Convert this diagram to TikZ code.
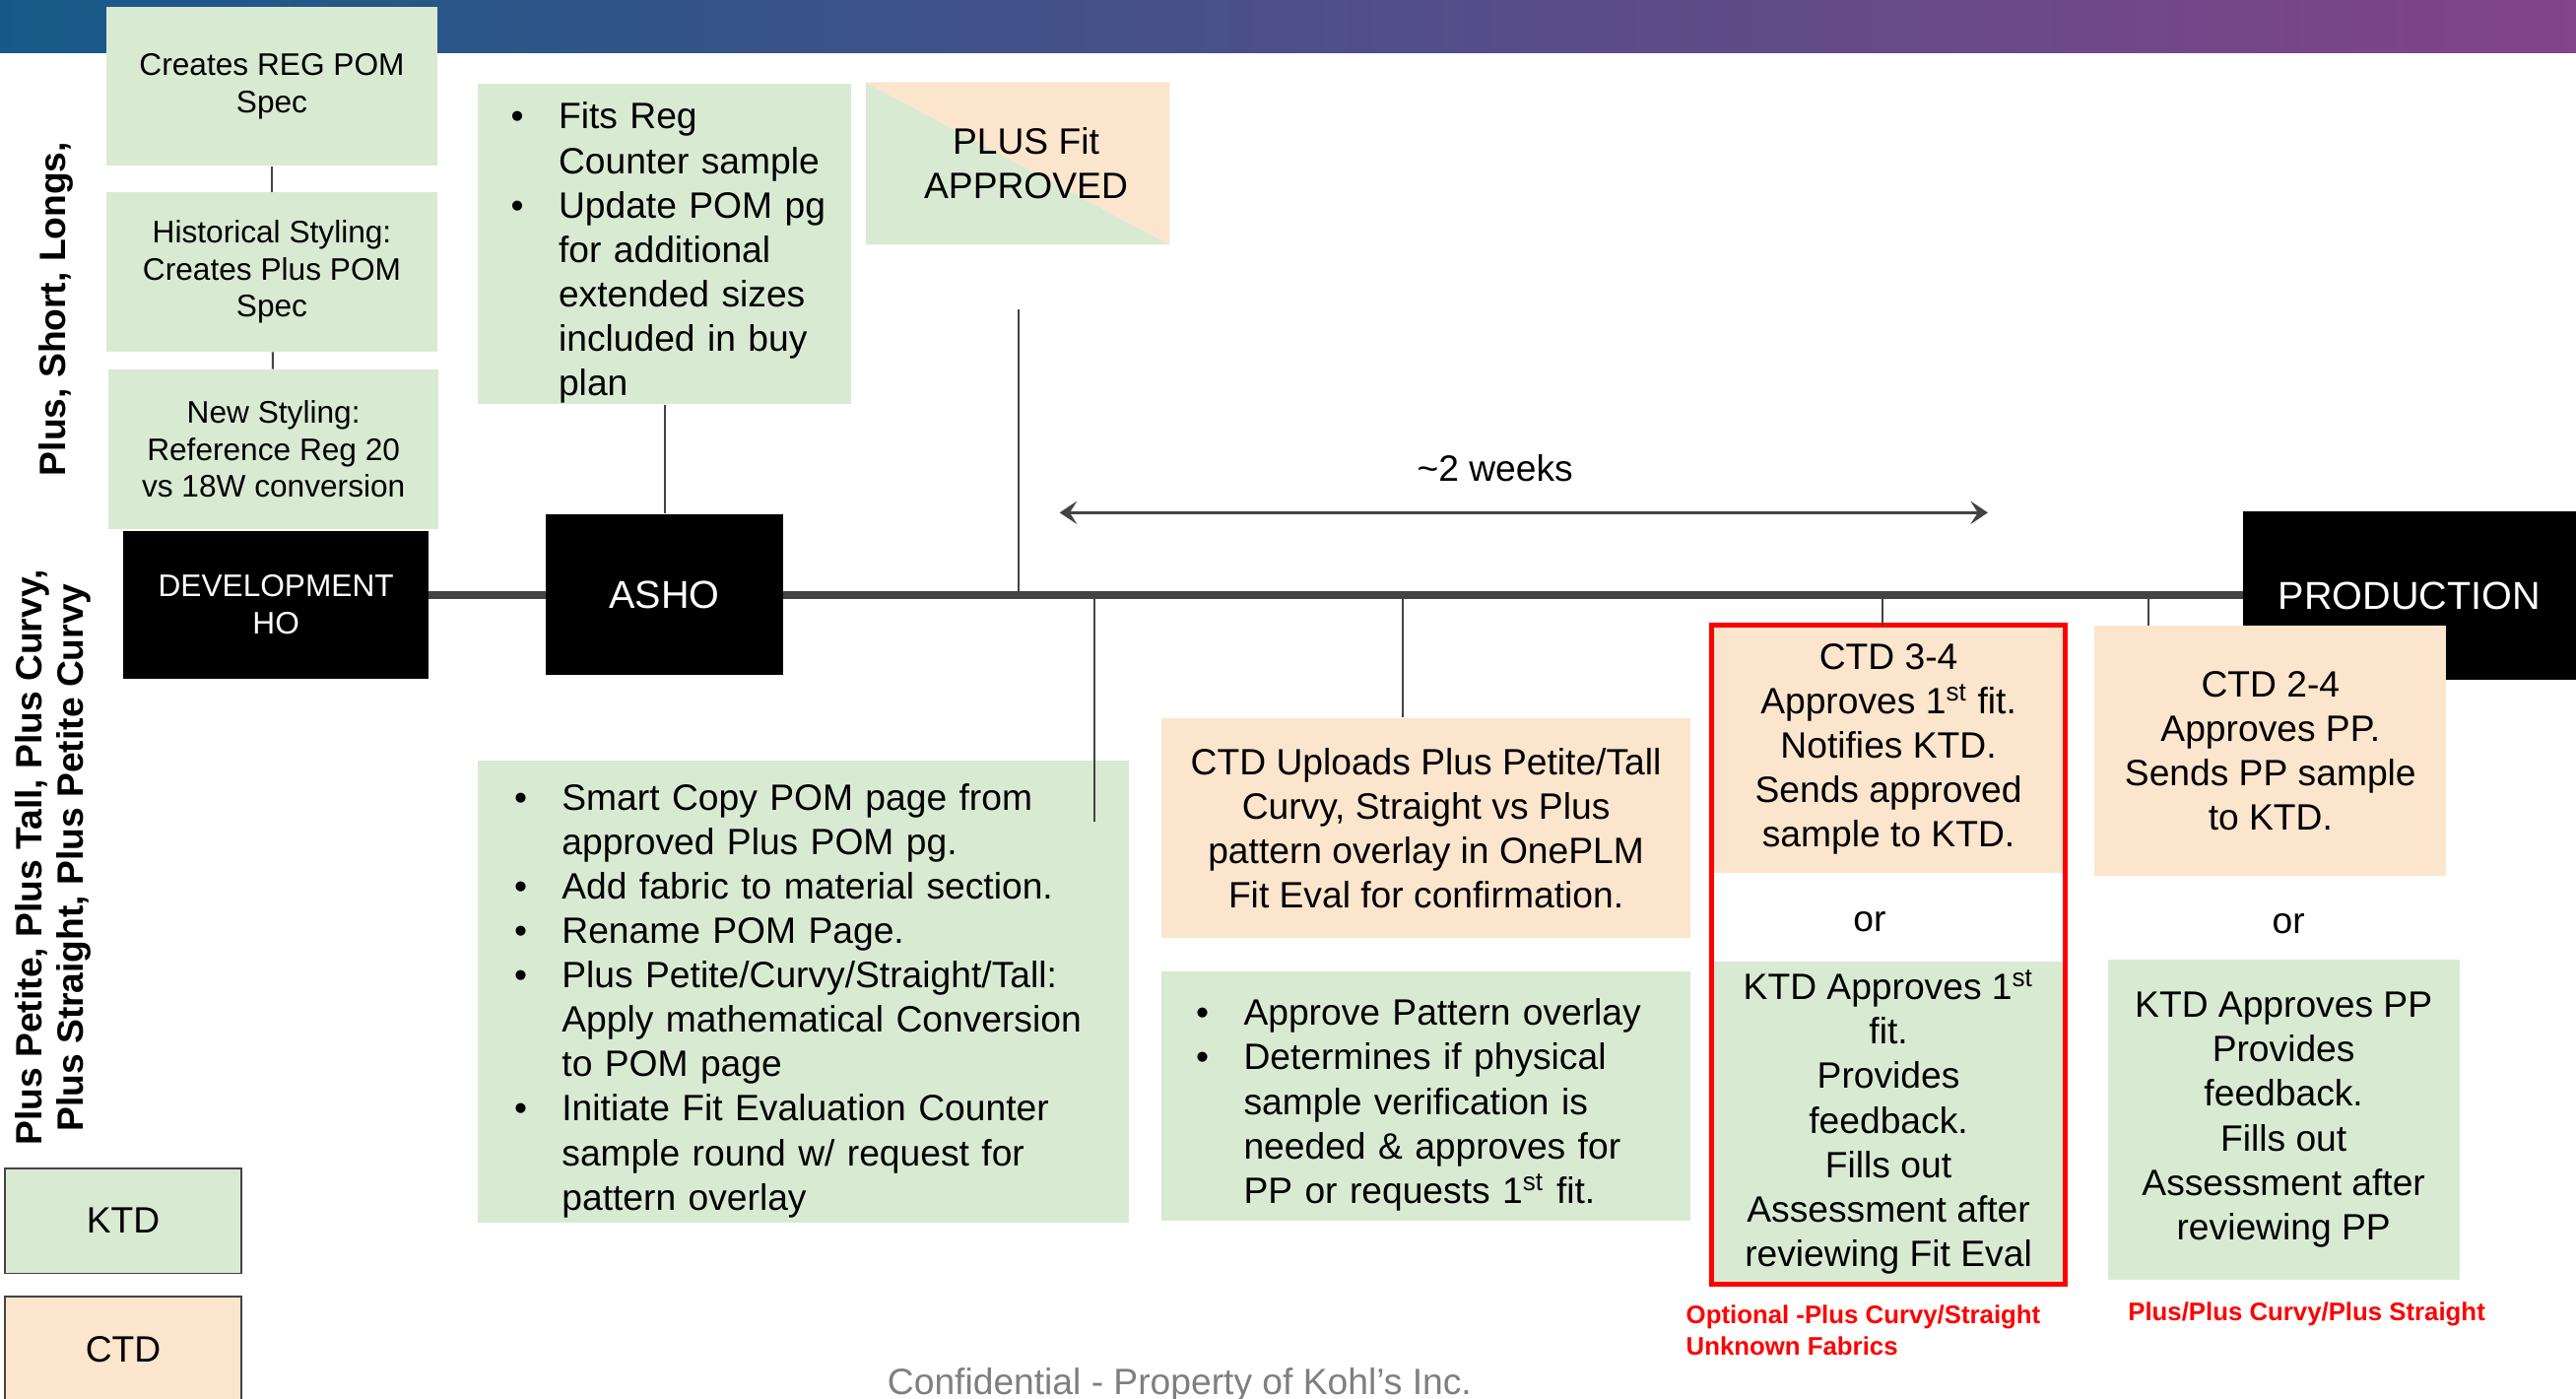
\documentclass[tikz,border=0pt]{standalone}
\usepackage{fontspec}
\setmainfont{Liberation Sans}
\usetikzlibrary{calc,positioning,arrows.meta,backgrounds}

\definecolor{ktdgreen}{HTML}{D9EAD3}
\definecolor{ctdpeach}{HTML}{FCE5CD}
\definecolor{linegray}{HTML}{434343}
\definecolor{footgray}{HTML}{7F7F7F}
\definecolor{bannerL}{HTML}{175A89}
\definecolor{bannerM}{HTML}{4A5696}
\definecolor{bannerR}{HTML}{834489}

\newcommand{\fsz}[2]{\fontsize{#1}{#2}\selectfont}
\newcommand{\bul}{\par\hyphenpenalty=10000\hangindent=0.58cm\hangafter=1\noindent\makebox[0.58cm][l]{\textbullet}}

\tikzset{
  every node/.style={font=\fsz{12.7}{15.4}},
  gbox/.style={fill=ktdgreen, inner sep=0pt, align=center},
  pbox/.style={fill=ctdpeach, inner sep=0pt, align=center},
  blk/.style={fill=black, text=white, inner sep=0pt, align=center},
  bullets/.style={align=left, inner xsep=#1},
  splitbox/.style={inner sep=0pt, align=center,
    path picture={
      \fill[ktdgreen] (path picture bounding box.north west) -- (path picture bounding box.south east) -- (path picture bounding box.south west) -- cycle;
      \fill[ctdpeach] (path picture bounding box.north west) -- (path picture bounding box.north east) -- (path picture bounding box.south east) -- cycle;}},
  link/.style={draw=linegray, line width=0.7pt},
  timeline/.style={draw=linegray, line width=2.8pt},
  span/.style={draw=linegray, line width=1.1pt, {Stealth[length=6pt,width=8pt,inset=2.5pt]}-{Stealth[length=6pt,width=8pt,inset=2.5pt]}},
  rednote/.style={text=red, inner sep=0pt, align=left, font=\bfseries\fsz{8.8}{10.8}},
  side/.style={rotate=90, align=center, inner sep=0pt, font=\bfseries\fsz{12.7}{14.2}}
}

\begin{document}
\begin{tikzpicture}[x=0.02cm, y=-0.02cm]
  \useasboundingbox (0,0) rectangle (1568,851);
  \clip (0,0) rectangle (1568,851);
  \shade[left color=bannerL, middle color=bannerM, right color=bannerR] (0,0) rectangle (1568,32);

  % size groups
  \node[side] (lblone) at (34,188) {Plus, Short, Longs,};
  \node[side] (lbltwo) at (32.5,522) {Plus Petite, Plus Tall, Plus Curvy,\\Plus Straight, Plus Petite Curvy};

  % development
  \node[gbox, font=\fsz{10.8}{12.8}, minimum width=4.02cm, minimum height=1.94cm] (reg) at (165.5,52.5) {Creates REG POM\\Spec};
  \node[gbox, font=\fsz{10.8}{12.8}, minimum width=4.02cm, minimum height=1.94cm] (hist) at (165.5,165.5) {Historical Styling:\\Creates Plus POM\\Spec};
  \node[gbox, font=\fsz{10.8}{12.8}, minimum width=4.02cm, minimum height=1.94cm] (newst) at (166.5,273.5) {New Styling:\\Reference Reg 20\\vs 18W conversion};
  \node[blk, font=\fsz{10.8}{12.8}, minimum width=3.72cm, minimum height=1.8cm] (dev) at (168,368) {DEVELOPMENT\\HO};

  % asho
  \node[gbox, bullets=0.4cm, text width=3.74cm, minimum height=3.9cm] (fits) at (404.5,148.5)
    {\bul Fits Reg\newline Counter~sample
     \bul Update~POM~pg\newline for~additional\newline extended~sizes\newline included~in~buy\newline plan\par};
  \node[blk, font=\fsz{13.5}{16}, minimum width=2.9cm, minimum height=1.96cm] (asho) at (404.5,362) {ASHO};
  \node[splitbox, minimum width=3.7cm, minimum height=1.98cm] (plusfit) at (619.5,99.5) {\hspace*{0.2cm}PLUS Fit\\\hspace*{0.2cm}APPROVED};
  \node[blk, font=\fsz{13.5}{16}, minimum width=4.06cm, minimum height=2.06cm] (production) at (1466.5,362.5) {PRODUCTION};

  \begin{scope}[on background layer]
    \draw[timeline] (dev.center |- asho.center) -- (production.center |- asho.center);
  \end{scope}

  \foreach \a/\b in {reg/hist, hist/newst, fits/asho}
    \draw[link] (\a) -- (\b);

  % ticks on the time line
  \coordinate (t1) at (620,361);
  \coordinate (t2) at (666,361);
  \coordinate (t3) at (854,361);
  \coordinate (t4) at (1146,361);
  \coordinate (t5) at (1308,361);
  \coordinate (fitend) at (620,188);
  \coordinate (smartend) at (666,500);

  \coordinate (wkl) at (645,312);
  \coordinate (wkr) at (1210,312);
  \draw[span] (wkl) -- (wkr);
  \node (weeks) at (910,285) {\textasciitilde2 weeks};

  % fit rounds
  \node[gbox, bullets=0.44cm, text width=7.04cm, minimum height=5.62cm] (smart) at (489,603.5)
    {\bul Smart Copy POM page from\newline approved Plus POM pg.
     \bul Add fabric to material section.
     \bul Rename POM Page.
     \bul Plus Petite/Curvy/Straight/Tall:\newline Apply~mathematical~Conversion\newline to POM page
     \bul Initiate Fit Evaluation Counter\newline sample round w/ request for\newline pattern overlay\par};
  \node[pbox, minimum width=6.44cm, minimum height=2.68cm] (ctdup) at (868,504)
    {CTD Uploads Plus Petite/Tall\\Curvy, Straight vs Plus\\pattern overlay in OnePLM\\Fit Eval for confirmation.};
  \node[gbox, bullets=0.42cm, text width=5.6cm, minimum height=3.04cm] (approve) at (868,667)
    {\bul Approve~Pattern~overlay
     \bul Determines if physical\newline sample verification is\newline needed \& approves for\newline PP or requests 1\textsuperscript{st} fit.\par};

  \node[pbox, minimum width=4.3cm, minimum height=3.0cm] (ctd34) at (1149.5,456)
    {CTD 3-4\\Approves 1\textsuperscript{st} fit.\\Notifies KTD.\\Sends approved\\sample to KTD.};
  \node (orone) at (1138,561) {or};
  \node[gbox, minimum width=4.3cm, minimum height=3.92cm] (ktd1) at (1149.5,683)
    {KTD Approves 1\textsuperscript{st}\\fit.\\Provides\\feedback.\\Fills out\\Assessment after\\reviewing Fit Eval};
  \draw[red, line width=1.7pt] (ctd34.north west) rectangle (ktd1.south east);

  \node[pbox, minimum width=4.28cm, minimum height=3.04cm] (ctd24) at (1382,457)
    {CTD 2-4\\Approves PP.\\Sends PP sample\\to KTD.};
  \node (ortwo) at (1393,562) {or};
  \node[gbox, minimum width=4.28cm, minimum height=3.9cm] (ktdpp) at (1390,681.5)
    {KTD Approves PP\\Provides\\feedback.\\Fills out\\Assessment after\\reviewing PP};

  \draw[link] (t1) -- (fitend);
  \draw[link] (t2) -- (smartend);
  \draw[link] (t3) -- (t3 |- ctdup.north);
  \draw[link] (t4) -- (t4 |- ctd34.north);
  \draw[link] (t5) -- (t5 |- ctd24.north);

  \node[rednote, anchor=west] (optnote) at (1026,809.5) {Optional -Plus Curvy/Straight\\Unknown Fabrics};
  \node[rednote, anchor=west] (plusnote) at (1295,800) {Plus/Plus Curvy/Plus Straight};

  % key
  \node[gbox, draw=linegray, line width=0.6pt, minimum width=2.88cm, minimum height=1.28cm] (ktdkey) at (75,743) {KTD};
  \node[pbox, draw=linegray, line width=0.6pt, minimum width=2.88cm, minimum height=1.28cm] (ctdkey) at (75,821) {CTD};

  \node[text=footgray] (footer) at (718,843) {Confidential - Property of Kohl's Inc.};
\end{tikzpicture}
\end{document}
